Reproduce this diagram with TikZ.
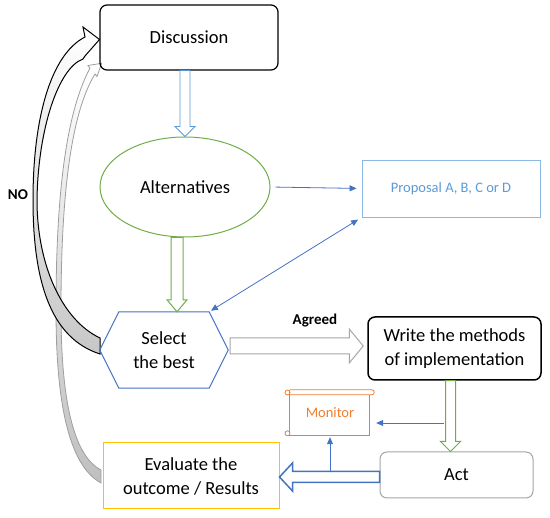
\documentclass[tikz,border=0pt]{standalone}
\usepackage{fontspec}
\setmainfont{Carlito}
\usepackage{xcolor}
\usepackage{tikz}
\usetikzlibrary{calc,arrows.meta,shapes.geometric}

\definecolor{arrblue}{HTML}{4472C4}
\definecolor{arrgreen}{HTML}{70AD47}
\definecolor{ltblue}{HTML}{5B9BD5}
\definecolor{monorange}{HTML}{ED7D31}
\definecolor{evalgold}{HTML}{FFC000}
\definecolor{actgray}{HTML}{A5A5A5}

% hollow block arrow: #2 from, #3 to, #4 half shaft, #5 half head, #6 head length
\newcommand{\blockarrow}[6][]{%
	\coordinate (ba-h) at ($(#3)!#6!(#2)$);
	\draw[fill=white,#1] ($(#2)!#4!90:(#3)$) -- ($(ba-h)!#4!90:(#3)$) -- ($(ba-h)!#5!90:(#3)$) -- (#3)
		-- ($(ba-h)!#5!-90:(#3)$) -- ($(ba-h)!#4!-90:(#3)$) -- ($(#2)!#4!-90:(#3)$) -- cycle;
}

\tikzset{
	bigtxt/.style={font=\fontsize{18.5}{24}\selectfont, align=center},
	smalltxt/.style={font=\fontsize{14.5}{17}\selectfont},
	roundbox/.style={draw, rounded corners=7pt, bigtxt},
	thinarr/.style={draw=arrblue, line width=0.8pt, ->},
}

\begin{document}
\begin{tikzpicture}[x=1pt,y=-1pt,>={Triangle[length=7pt,width=6pt]}]
		\useasboundingbox (0,0) rectangle (550,518);
		
%		curved arrows (back)
		\path[draw=black!38, line width=0.8pt, shading=axis, top color=white, middle color=white, bottom color=black!25]
			(101,483) .. controls (68,465) and (56,400) .. (56,310) .. controls (56,200) and (65,115) .. (90,68)
			-- (88,65.5) -- (101.7,63.3) -- (97,76.5) -- (95,74)
			.. controls (70,115) and (61,200) .. (61,310) .. controls (61,395) and (72,455) .. (101,470) -- cycle;
		\path[draw=black, line width=1pt, shading=axis, top color=white, middle color=white, bottom color=black!22]
			(100,354) .. controls (50,338) and (33,280) .. (33,200) .. controls (33,120) and (50,55) .. (85,37)
			-- (83,27) -- (99.5,39.5) -- (85,56) -- (83,59)
			.. controls (58,68) and (38,130) .. (37,200) .. controls (37,265) and (62,320) .. (100,338) -- cycle;
		
%		nodes
		\node[roundbox, line width=1.2pt, minimum width=178, minimum height=65] (disc) at (189,37.5) {Discussion};
		\node[ellipse, draw=arrgreen, line width=1pt, minimum width=170, minimum height=100, bigtxt] (alt) at (185,187) {Alternatives};
		\node[draw=ltblue!70, line width=0.9pt, minimum width=178, minimum height=57, text=ltblue, smalltxt] (prop) at (451,188.5) {Proposal A, B, C or D};
		\node[minimum width=128, minimum height=76, bigtxt] (sel) at (164,350) {Select\\the best};
		\node[roundbox, line width=1.5pt, minimum width=173, minimum height=63] (write) at (454.5,348.5) {Write the methods\\of implementation};
		\node[roundbox, draw=actgray, line width=1pt, minimum width=153, minimum height=46] (act) at (456.5,475) {Act};
		\node[minimum width=90, minimum height=46, text=monorange, smalltxt] (mon) at (330,413) {Monitor};
		\node[draw=evalgold, line width=1pt, minimum width=176, minimum height=66, bigtxt] (eval) at (191,476) {Evaluate the\\outcome / Results};
		\node[smalltxt, font=\bfseries\fontsize{15}{18}\selectfont] (agr) at (315,321) {Agreed};
		\node[smalltxt, font=\bfseries\fontsize{15}{18}\selectfont] (no) at (18,195) {NO};
		
%		hexagon
		\draw[arrblue, line width=1pt] (sel.west) -- ($(sel.north west)+(19,0)$) -- ($(sel.north east)+(-19,0)$) coordinate (sel-ne)
			-- (sel.east) -- ($(sel.south east)+(-19,0)$) -- ($(sel.south west)+(19,0)$) -- cycle;
		
%		scroll
		\begin{scope}[shift={(mon.north west)}, draw=monorange, line width=0.8pt]
			\draw[monorange] (5,0) -- (87,0) arc (-90:90:2.5) -- (5,5);
			\draw[monorange] (5,0) -- (5,42);
			\draw[monorange] (3,46) -- (85,46) -- (85,5);
			\draw[monorange] (2.7,2.7) circle (2.5);
			\draw[monorange] (2.7,43.5) circle (2.5);
		\end{scope}
		
%		thin arrows
		\coordinate (tap1) at (444,423);
		\coordinate (tap2) at (330,471.5);
		\draw[thinarr, shorten <=5pt, shorten >=5pt] (alt.east) -- (prop.west);
		\draw[thinarr, <->, shorten <=4pt, shorten >=2pt] (prop.south west) -- (sel-ne);
		\draw[thinarr, shorten >=1pt] (tap1) -- (tap1 -| mon.east);
		\draw[thinarr, shorten >=1pt] (tap2) -- (tap2 |- mon.south);
		
%		block arrows
		\coordinate (b1s) at (disc.south -| alt.north);
		\blockarrow[draw=ltblue, line width=0.8pt]{b1s}{alt.north}{5pt}{10pt}{10pt}
		\coordinate (b2s) at ($(alt.south)+(-8,0)$);
		\coordinate (b2e) at (b2s |- sel.north);
		\blockarrow[draw=arrgreen, line width=1pt]{b2s}{b2e}{6pt}{10pt}{12pt}
		\coordinate (b3s) at ($(sel.east)+(2,-4)$);
		\coordinate (b3e) at ($(b3s -| write.west)+(-4,0)$);
		\blockarrow[draw=black!35, line width=1pt]{b3s}{b3e}{8pt}{17pt}{14pt}
		\coordinate (b4s) at ($(write.south)+(-4,0)$);
		\coordinate (b4e) at (b4s |- act.north);
		\blockarrow[draw=arrgreen, line width=1pt]{b4s}{b4e}{5pt}{10pt}{10pt}
		\coordinate (b5s) at ($(act.west)+(0,2)$);
		\coordinate (b5e) at (b5s -| eval.east);
		\blockarrow[draw=arrblue, line width=1.5pt]{b5s}{b5e}{5.5pt}{14pt}{13pt}
\end{tikzpicture}
\end{document}
